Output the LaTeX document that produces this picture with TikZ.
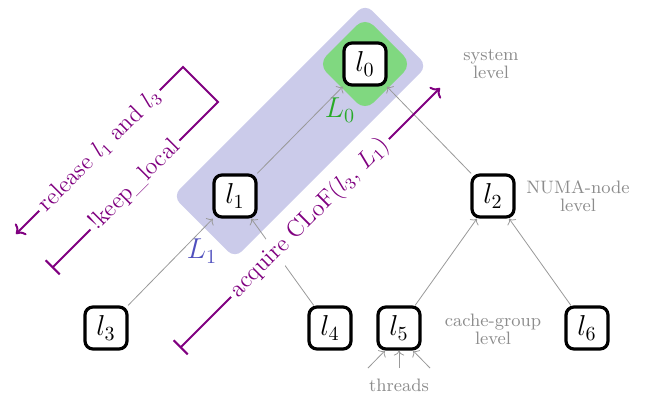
\documentclass[tikz,border=0pt]{standalone}
\usepackage{amsmath,amssymb}
\usepackage{xcolor}
\usepackage{tikz}
\usetikzlibrary{arrows.meta}

\definecolor{cohortblue}{RGB}{203,203,234}
\definecolor{cohortgreen}{RGB}{128,216,128}
\definecolor{labgreen}{RGB}{40,170,40}
\definecolor{labblue}{RGB}{80,80,190}

\begin{document}
\begin{tikzpicture}[x=0.5pt, y=-0.5pt,
  lock/.style={draw, rounded corners=4pt, ultra thick, fill=white, minimum size=21pt, inner sep=0pt, font=\Large},
  edge/.style={->, black!40},
  lvl/.style={black!45, font=\small, align=center},
  act/.style={violet, line width=1pt},
  acttext/.style={sloped, fill=white, inner sep=2pt, font=\large}]
\useasboundingbox (0,0) rectangle (651,398);

% cohorts
\fill[cohortblue, rounded corners=5pt] (172.7,196.1) -- (365.1,3.7) -- (427.3,65.9) -- (234.9,258.3) -- cycle;
\fill[cohortgreen, rounded corners=6pt] (318,64) -- (365,17) -- (412,64) -- (365,111) -- cycle;

% locks
\node[lock] (l0) at (365,64) {$l_0$};
\node[lock] (l1) at (235,196) {$l_1$};
\node[lock] (l2) at (493,196) {$l_2$};
\node[lock] (l3) at (106,328) {$l_3$};
\node[lock] (l4) at (330,328) {$l_4$};
\node[lock] (l5) at (399,328) {$l_5$};
\node[lock] (l6) at (587,328) {$l_6$};

\node[text=labgreen, font=\Large] (L0) at (340,110) {$L_0$};
\node[text=labblue, font=\Large] (L1) at (202,251) {$L_1$};

% levels
\node[lvl] (sys) at (491,64) {system\\[-2pt]level};
\node[lvl] (numa) at (578,196) {NUMA-node\\[-2pt]level};
\node[lvl] (cache) at (493,329) {cache-group\\[-2pt]level};
\node[lvl] (thr) at (399,385) {threads};

\draw[edge] (l1) -- (l0);
\draw[edge] (l2) -- (l0);
\draw[edge] (l3) -- (l1);
\draw[edge] (l4) -- (l1);
\draw[edge] (l5) -- (l2);
\draw[edge] (l6) -- (l2);

\coordinate (t1) at (368,368);
\coordinate (t2) at (399,368);
\coordinate (t3) at (430,368);
\draw[edge] (t1) -- ([xshift=-7pt]l5.south);
\draw[edge] (t2) -- (l5.south);
\draw[edge] (t3) -- ([xshift=7pt]l5.south);

% acquire / release
\coordinate (acqs) at (180,348);
\coordinate (acqe) at (440,88);
\draw[act, {Bar[width=10pt]}->] (acqs) -- node[acttext] {acquire CLoF($l_3$, $L_1$)} (acqe);

\coordinate (keeps) at (52,268);
\coordinate (keepe) at (218,102);
\coordinate (rels) at (183,67);
\coordinate (rele) at (16,234);
\draw[act, {Bar[width=10pt]}->] (keeps) -- node[acttext] {!keep\_local} (keepe) -- (rels) -- node[acttext] {release $l_1$ and $l_3$} (rele);
\end{tikzpicture}
\end{document}
